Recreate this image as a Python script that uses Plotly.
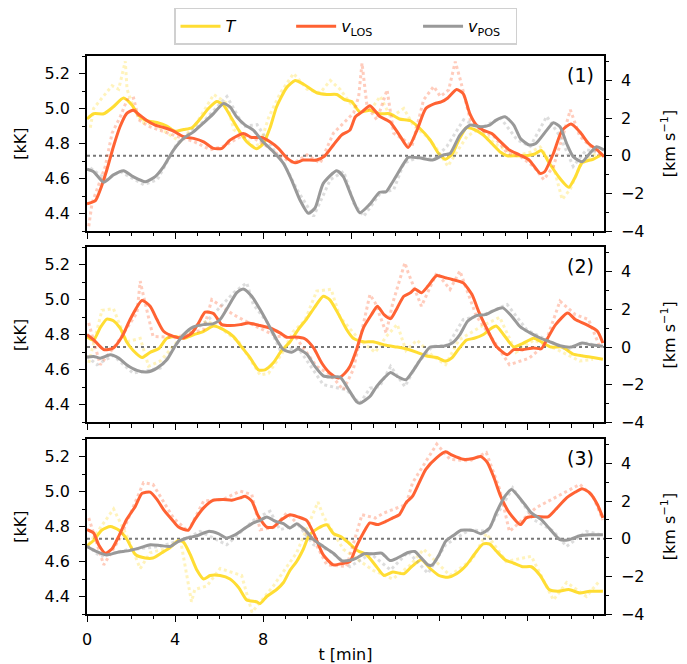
import plotly.graph_objects as go

# ---------------- data (t in min, T in kK, v in km/s) ----------------
# Panel (1) smoothed
p1_t_T = [0,0.3,0.76,1.2,1.66,2.04,2.35,2.72,3.18,3.63,4.0,4.39,4.77,5.14,5.52,5.9,6.2,6.5,6.88,7.26,7.72,8.02,8.32,8.62,9.08,9.46,9.83,10.44,10.9,11.35,11.72,12.03,12.4,12.86,13.3,13.77,14.2,14.7,15.1,15.6,16.0,16.3,16.6,16.9,17.25,17.6,18.0,18.4,18.8,19.1,19.5,19.97,20.35,20.65,21.0,21.5,21.9,22.2,22.5,23.0,23.45]
p1_T = [4.94,4.97,4.97,5.01,5.06,5.02,4.96,4.93,4.92,4.90,4.87,4.88,4.89,4.94,5.00,5.04,5.02,4.96,4.88,4.81,4.77,4.80,4.89,5.01,5.12,5.16,5.14,5.09,5.08,5.08,5.05,5.04,4.98,4.99,4.97,4.97,4.94,4.93,4.89,4.82,4.74,4.71,4.74,4.82,4.89,4.88,4.85,4.80,4.75,4.73,4.73,4.73,4.74,4.76,4.69,4.60,4.55,4.61,4.69,4.71,4.74]
p1_t_los = [0,0.38,0.6,0.9,1.2,1.5,1.8,2.1,2.4,2.7,3.1,3.48,3.93,4.39,4.84,5.3,5.75,6.13,6.5,7.1,7.49,7.94,8.32,8.7,9.08,9.46,9.83,10.44,10.8,11.2,11.57,11.95,12.2,12.5,12.86,13.3,13.77,14.2,14.6,15.0,15.4,15.8,16.1,16.4,16.8,17.1,17.4,17.7,18.0,18.4,18.8,19.2,19.67,20.1,20.6,20.8,21.2,21.6,22.0,22.4,22.8,23.2,23.5]
p1_los = [-2.56,-2.39,-1.82,-0.76,0.48,1.54,2.24,2.42,2.16,1.89,1.63,1.50,1.31,1.01,0.92,0.74,0.39,0.39,0.83,1.18,0.97,0.97,0.74,0.39,-0.11,-0.37,-0.23,-0.23,-0.02,0.57,1.10,1.36,2.07,2.33,2.66,2.10,1.80,1.10,0.44,1.36,2.51,2.77,2.86,3.07,3.52,3.30,2.24,1.63,1.36,1.18,0.74,0.30,0.04,-0.23,-0.94,-0.85,0.12,1.36,1.68,1.27,0.65,0.30,-0.05]
p1_t_pos = [0,0.3,0.76,1.2,1.66,2.1,2.65,3.1,3.48,3.93,4.39,4.84,5.3,5.75,6.2,6.5,6.8,7.19,7.56,8.0,8.47,8.93,9.3,9.68,10.06,10.36,10.74,11.35,11.65,12.03,12.4,12.86,13.3,13.6,13.9,14.4,14.6,15.1,15.7,16.2,16.5,16.95,17.4,17.9,18.3,18.6,19.0,19.4,19.7,20.1,20.4,20.9,21.2,21.5,21.8,22.1,22.5,22.85,23.16,23.5]
p1_pos = [-0.72,-0.85,-1.41,-1.02,-0.80,-1.11,-1.38,-1.11,-0.58,0.30,0.92,1.27,1.75,2.24,2.77,2.60,2.07,1.63,1.36,0.74,0.21,-0.41,-1.29,-2.35,-3.06,-2.79,-1.47,-0.80,-1.11,-2.17,-3.03,-2.57,-1.94,-1.91,-1.38,-0.41,-0.09,-0.11,-0.23,0.04,0.12,1.10,1.63,1.54,1.63,1.89,2.07,1.63,0.92,0.57,0.65,1.36,1.75,1.54,0.65,-0.05,-0.32,0.12,0.48,0.30]
# Panel (1) raw (faint dotted)
p1_rt_T = [0.15,0.3,0.68,1.14,1.44,1.74,1.82,2.12,2.5,3.03,3.64,4.24,5.0,5.45,5.76,6.36,6.67,7.12,7.58,7.88,8.26,8.79,9.39,10.0,10.6,11.06,11.5,11.97,12.42,13.0,13.33,13.8,14.4,14.85,15.45,15.9,16.4,16.8,17.27,17.88,18.5,18.94,19.55,20.15,20.6,21.2,21.6,21.97,22.4,22.9,23.4]
p1_rT = [4.89,5.00,5.06,5.13,5.11,5.27,5.11,5.00,4.92,4.91,4.86,4.81,4.92,5.01,5.08,5.03,4.88,4.84,4.78,4.80,4.95,5.09,5.20,5.11,5.09,5.16,5.11,5.03,4.98,5.01,5.07,4.95,5.00,4.90,4.84,4.77,4.67,4.75,4.84,4.89,4.80,4.77,4.73,4.75,4.78,4.67,4.48,4.54,4.67,4.73,4.75]
p1_rt_los = [0.08,0.23,0.45,0.83,1.14,1.52,1.82,2.12,2.35,2.8,3.48,4.09,4.85,5.6,6.2,7.0,7.58,8.18,8.79,9.39,10.0,10.6,11.2,11.67,12.12,12.35,12.5,12.73,13.18,13.64,13.94,14.4,14.77,15.3,15.76,16.06,16.44,16.74,16.97,17.42,17.88,18.5,19.1,19.7,20.3,20.76,21.2,21.67,21.97,22.4,22.9,23.4]
p1_rlos = [-3.75,-2.51,-1.81,-0.57,1.20,2.09,2.97,3.06,1.91,1.56,1.29,1.03,0.76,0.32,0.50,1.03,0.94,0.50,-0.04,-0.39,0.05,-0.39,1.20,1.73,2.27,3.15,4.92,2.62,1.91,3.50,1.20,0.85,0.50,2.97,3.68,3.15,3.50,5.00,4.03,1.91,1.38,1.03,0.14,-0.04,-0.57,-1.27,-0.57,1.20,2.44,1.03,0.50,-0.04]
p1_rt_pos = [0.15,0.9,1.5,2.58,3.2,4.1,5.3,6.36,7.12,7.73,8.48,8.94,9.55,10.3,11.06,11.67,12.12,12.58,13.33,13.94,14.4,15.15,15.76,16.36,17.12,17.88,18.8,19.55,20.15,20.9,21.5,22.1,22.7,23.4]
p1_rpos = [-0.65,-1.27,-0.83,-1.54,-1.27,0.67,1.82,3.15,1.56,1.65,0.32,-0.39,-1.81,-3.22,-1.27,-0.83,-2.51,-3.22,-1.98,-1.81,-0.39,-0.04,-0.21,0.50,1.91,1.47,2.00,0.85,0.50,2.09,1.03,-0.57,0.32,0.14]

# Panel (2) smoothed
p2_t_T = [0,0.3,0.6,0.9,1.2,1.5,1.8,2.1,2.5,2.87,3.25,3.63,4.0,4.39,4.84,5.3,5.75,6.2,6.66,7.03,7.41,7.79,8.09,8.47,8.85,9.23,9.6,9.98,10.36,10.74,11.04,11.42,11.8,12.1,12.56,13.0,13.6,14.1,14.5,15.0,15.4,15.9,16.3,16.6,16.9,17.25,17.6,18.0,18.3,18.6,19.0,19.4,19.8,20.3,20.65,21.1,21.6,22.1,22.5,23.0,23.45]
p2_T = [4.79,4.77,4.84,4.89,4.88,4.84,4.76,4.71,4.67,4.70,4.72,4.78,4.79,4.78,4.80,4.82,4.85,4.83,4.79,4.73,4.67,4.60,4.60,4.64,4.71,4.76,4.83,4.89,4.96,5.02,5.00,4.92,4.83,4.78,4.76,4.76,4.74,4.73,4.72,4.70,4.68,4.67,4.65,4.67,4.72,4.77,4.78,4.80,4.83,4.85,4.79,4.73,4.75,4.78,4.76,4.73,4.73,4.69,4.68,4.67,4.66]
p2_t_los = [0,0.3,0.76,1.2,1.6,1.97,2.5,2.87,3.18,3.48,3.93,4.39,4.77,5.07,5.37,5.75,6.13,6.5,6.96,7.34,7.87,8.32,8.77,9.08,9.46,9.9,10.3,10.67,11.04,11.42,11.72,11.95,12.25,12.56,12.93,13.2,13.5,13.8,14.1,14.4,14.7,14.9,15.2,15.5,15.9,16.3,16.6,17.1,17.5,17.8,18.2,18.6,19.1,19.4,19.8,20.3,20.65,20.9,21.3,21.85,22.2,22.7,23.2,23.45]
p2_los = [0.66,0.39,-0.14,-0.05,0.57,1.49,2.47,2.17,1.46,0.84,0.57,0.48,0.75,1.28,1.85,1.78,1.19,1.14,1.19,1.28,1.14,1.01,0.75,0.52,0.53,0.44,-0.05,-0.85,-1.39,-1.65,-1.39,-1.03,-0.14,1.01,1.72,2.17,1.72,1.51,2.08,2.70,2.88,3.09,2.88,3.24,3.80,3.68,3.59,3.41,2.79,1.90,0.92,0.04,-0.41,-0.14,-0.14,-0.05,-0.09,0.39,1.19,1.81,1.46,1.19,0.84,0.21]
p2_t_pos = [0,0.3,0.6,1.06,1.44,1.8,2.27,2.72,3.18,3.63,4.0,4.39,4.84,5.3,5.75,6.05,6.43,6.8,7.1,7.49,7.87,8.25,8.62,8.93,9.3,9.6,9.98,10.36,10.74,11.1,11.5,11.9,12.25,12.4,12.86,13.16,13.5,13.8,14.1,14.5,14.8,15.2,15.6,16.2,16.6,16.95,17.3,17.7,18.1,18.5,18.9,19.3,19.7,20.1,20.6,21.0,21.5,22.0,22.5,22.9,23.45]
p2_pos = [-0.53,-0.50,-0.59,-0.41,-0.59,-0.94,-1.24,-1.33,-1.12,-0.68,0.04,0.66,1.07,1.19,1.24,1.46,2.17,2.88,3.09,2.70,1.99,1.19,0.39,-0.14,-0.28,-0.11,-0.36,-1.03,-1.53,-1.60,-1.60,-2.28,-2.90,-2.99,-2.63,-2.10,-1.65,-1.35,-1.56,-1.74,-1.30,-0.59,0.0,0.04,0.21,0.66,1.37,1.67,1.72,1.94,2.08,1.64,1.07,0.78,0.48,0.30,0.07,0.0,0.21,0.12,0.04]
# Panel (2) raw
p2_rt_T = [0.08,0.68,1.2,1.8,2.42,2.8,3.33,4.3,5.45,6.05,6.9,7.87,8.25,8.9,9.38,9.9,10.44,11.1,11.5,12.4,13.1,13.6,14.1,14.5,15.0,15.7,16.3,16.9,17.95,18.76,19.5,20.3,21.3,22.4,23.0]
p2_rT = [4.64,4.94,4.95,4.76,4.78,4.62,4.65,4.79,4.88,4.84,4.76,4.57,4.58,4.70,4.82,4.88,5.05,5.06,4.90,4.77,4.70,4.79,4.86,4.71,4.77,4.68,4.63,4.77,4.85,4.90,4.70,4.77,4.72,4.65,4.66]
p2_rt_los = [0.08,0.6,1.3,2.27,2.42,2.5,3.0,4.0,5.3,5.67,6.66,7.5,8.62,9.5,10.44,11.1,11.65,12.1,12.86,13.1,13.6,13.9,14.45,14.6,15.2,15.9,16.5,16.95,17.7,18.45,19.2,20.1,20.8,21.5,22.2,22.8,23.3]
p2_rlos = [1.28,-0.94,0.10,1.81,3.50,3.06,0.57,0.50,0.92,2.52,1.72,1.20,0.57,0.50,-1.03,-1.50,-2.28,-1.21,2.79,2.35,0.75,2.35,4.48,3.95,2.17,3.95,3.06,4.04,1.64,0.39,-0.94,-0.59,0.10,2.44,1.72,1.46,0.04]
p2_rt_pos = [0.0,0.45,1.2,2.1,3.33,4.2,5.45,6.66,7.26,7.56,8.2,8.77,9.6,10.74,11.8,12.4,12.86,13.3,13.8,14.45,15.0,15.7,16.4,17.1,18.0,19.1,20.0,20.9,21.8,22.7,23.4]
p2_rpos = [-0.50,-0.94,-0.45,-1.39,-1.12,0.40,1.37,2.88,3.41,2.26,1.30,-0.14,-0.05,-2.00,-2.28,-3.00,-2.19,-2.10,-1.03,-2.10,-0.90,0.04,0.10,1.46,1.70,2.26,0.90,0.39,-0.14,0.21,0.02]

# Panel (3) smoothed
p3_t_T = [0,0.3,0.68,1.06,1.44,1.8,2.2,2.65,3.0,3.4,3.78,4.16,4.39,4.69,5.0,5.3,5.6,6.05,6.5,6.9,7.26,7.7,7.87,8.17,8.62,8.93,9.23,9.53,9.83,10.1,10.5,10.9,11.2,11.57,11.95,12.33,12.7,13.16,13.5,13.9,14.4,14.75,15.2,15.6,16.0,16.4,16.8,17.25,17.6,18.0,18.3,18.6,19.0,19.4,19.8,20.2,20.6,21.0,21.4,21.9,22.4,22.85,23.45]
p3_T = [4.69,4.72,4.78,4.80,4.78,4.73,4.64,4.62,4.62,4.65,4.68,4.72,4.71,4.64,4.55,4.50,4.52,4.52,4.50,4.45,4.38,4.37,4.36,4.40,4.44,4.48,4.55,4.60,4.67,4.75,4.79,4.81,4.76,4.74,4.70,4.66,4.64,4.57,4.52,4.54,4.53,4.57,4.61,4.56,4.52,4.51,4.53,4.58,4.64,4.70,4.70,4.66,4.61,4.59,4.57,4.57,4.52,4.44,4.43,4.44,4.42,4.43,4.43]
p3_t_los = [0,0.3,0.53,0.83,1.13,1.44,1.8,2.2,2.5,2.87,3.18,3.48,3.86,4.16,4.6,4.9,5.3,5.75,6.2,6.58,6.96,7.19,7.49,7.79,8.17,8.47,8.85,9.23,9.6,9.98,10.3,10.74,11.2,11.65,11.95,12.25,12.56,12.86,13.2,13.6,13.9,14.2,14.5,14.8,15.1,15.4,15.9,16.3,16.6,17.1,17.55,17.9,18.2,18.5,18.8,19.2,19.7,19.97,20.4,20.95,21.3,21.8,22.2,22.5,22.85,23.2,23.45]
p3_los = [0.48,0.30,-0.32,-0.77,-0.55,0.12,1.02,1.73,2.41,2.48,2.09,1.55,1.02,0.62,0.45,1.02,1.64,2.05,2.09,2.05,2.17,2.26,2.00,1.19,0.62,0.62,1.02,1.28,1.16,0.98,0.30,-0.86,-1.39,-1.30,-1.21,-0.41,0.30,0.84,0.75,0.93,1.11,1.28,1.91,2.26,2.98,3.69,4.31,4.62,4.44,4.22,4.26,4.37,4.05,3.24,2.26,1.37,0.75,1.11,1.19,1.16,1.55,2.17,2.48,2.66,2.44,1.82,1.11]
p3_t_pos = [0,0.45,0.9,1.36,1.97,2.5,2.87,3.33,3.78,4.16,4.54,5.0,5.52,5.97,6.35,6.73,7.19,7.56,7.87,8.17,8.55,8.93,9.23,9.53,9.9,10.3,10.74,11.2,11.57,11.9,12.25,12.6,13.0,13.4,13.77,14.1,14.6,14.9,15.2,15.5,15.7,16.0,16.3,16.7,17.0,17.55,17.9,18.3,18.6,19.0,19.3,19.6,19.9,20.2,20.65,21.0,21.5,21.9,22.4,22.85,23.45]
p3_pos = [-0.41,-0.68,-0.86,-0.73,-0.62,-0.45,-0.32,-0.36,-0.41,-0.14,0.04,0.16,0.39,0.27,0.04,0.21,0.57,0.84,0.98,1.16,0.93,0.80,0.57,0.80,0.48,-0.05,-0.41,-0.77,-1.16,-1.16,-1.03,-0.80,-0.80,-0.77,-1.16,-1.03,-0.73,-0.68,-1.03,-1.39,-1.39,-0.86,-0.14,0.21,0.45,0.43,0.27,0.57,1.37,2.26,2.62,2.26,1.82,1.37,1.02,0.57,-0.05,-0.05,0.16,0.21,0.21]
# Panel (3) raw
p3_rt_T = [0.08,0.68,1.21,1.8,2.42,2.87,3.78,4.24,4.75,4.9,5.45,6.05,7.03,7.5,8.47,9.53,10.5,10.74,11.65,13.0,13.9,14.7,15.3,16.5,17.5,18.15,19.05,20.2,21.2,21.8,22.7,23.3]
p3_rT = [4.70,4.81,4.90,4.75,4.56,4.65,4.68,4.73,4.37,4.44,4.46,4.56,4.52,4.31,4.46,4.65,4.94,4.86,4.67,4.55,4.50,4.58,4.67,4.52,4.61,4.76,4.60,4.63,4.38,4.48,4.40,4.49]
p3_rt_los = [0.08,0.76,1.5,2.57,3.0,3.93,4.6,5.3,6.2,6.96,7.49,7.87,8.5,9.08,10.3,10.9,11.8,12.5,13.1,13.5,14.5,14.8,15.9,16.5,17.4,18.15,18.76,19.2,20.4,21.5,22.4,23.0,23.45]
p3_rlos = [1.10,-1.39,0.04,2.98,2.89,1.10,0.40,2.00,2.10,2.53,2.35,0.48,0.60,1.37,-0.05,-1.39,-1.48,1.28,1.10,1.37,1.82,2.98,5.03,4.22,4.14,4.58,2.62,0.39,1.64,2.35,2.89,2.26,1.00]
p3_rt_pos = [0.0,0.6,1.8,3.33,4.5,5.14,6.35,7.7,8.32,8.77,9.6,10.3,11.0,11.95,12.9,13.8,14.6,15.5,16.3,17.4,18.2,18.76,19.35,20.3,21.2,21.8,22.7,23.4]
p3_rpos = [-0.35,-0.94,-0.60,-0.41,0.00,0.39,-0.32,1.10,1.46,0.48,0.75,-0.32,-0.60,-1.48,-0.80,-1.66,-0.70,-1.84,-0.32,0.48,0.40,1.55,2.71,1.02,0.40,-0.41,0.39,0.20]

panel_labels = ["(1)", "(2)", "(3)"]
series_names = ["<i>T</i>", "<i>v</i><sub>LOS</sub>", "<i>v</i><sub>POS</sub>"]
x_label_ticks = [0, 4, 8]
x_unlabeled_ticks = [12, 16, 20]
x_range = [0, 23.5]
T_range = [4.3, 5.3]
v_range = [-4, 5.3]

panels = [
    dict(T=(p1_t_T, p1_T), L=(p1_t_los, p1_los), P=(p1_t_pos, p1_pos),
         rT=(p1_rt_T, p1_rT), rL=(p1_rt_los, p1_rlos), rP=(p1_rt_pos, p1_rpos)),
    dict(T=(p2_t_T, p2_T), L=(p2_t_los, p2_los), P=(p2_t_pos, p2_pos),
         rT=(p2_rt_T, p2_rT), rL=(p2_rt_los, p2_rlos), rP=(p2_rt_pos, p2_rpos)),
    dict(T=(p3_t_T, p3_T), L=(p3_t_los, p3_los), P=(p3_t_pos, p3_pos),
         rT=(p3_rt_T, p3_rT), rL=(p3_rt_los, p3_rlos), rP=(p3_rt_pos, p3_rpos)),
]

# ---------------- styling ----------------
C_T = "#FFDD33"
C_LOS = "#FF6233"
C_POS = "#999999"
FONT = "DejaVu Sans"
W, H = 687, 664
MT, MB, ML, MR = 56, 50, 87, 83
plot_h = H - MT - MB
panel_px = [(56, 231), (247.3, 422.3), (439, 614)]
PAD = "\u00a0"

def dom(top, bot):
    return [(H - MB - bot) / plot_h, (H - MB - top) / plot_h]

fig = go.Figure()
LW = 3
RAW_OP = 0.32
legend_names = [series_names[0] + PAD * 10, series_names[1] + PAD * 8, series_names[2] + PAD * 2]
spl = dict(shape="spline", smoothing=0.6)

for i, p in enumerate(panels):
    k = i + 1
    xa = "x" if k == 1 else f"x{k}"
    yl = "y" if k == 1 else f"y{2*k-1}"
    yr = f"y{2*k}"
    # raw data (faint dotted)
    for key, col, ya in (("rT", C_T, yl), ("rL", C_LOS, yr), ("rP", C_POS, yr)):
        fig.add_trace(go.Scatter(x=p[key][0], y=p[key][1], mode="lines", opacity=RAW_OP,
                                 line=dict(color=col, width=3, dash="3px,3px"),
                                 showlegend=False, hoverinfo="skip", xaxis=xa, yaxis=ya))
    fig.add_trace(go.Scatter(x=p["T"][0], y=p["T"][1], mode="lines", line=dict(color=C_T, width=LW, **spl),
                             name=legend_names[0], showlegend=(k == 1), xaxis=xa, yaxis=yl))
    fig.add_trace(go.Scatter(x=p["L"][0], y=p["L"][1], mode="lines", line=dict(color=C_LOS, width=LW, **spl),
                             name=legend_names[1], showlegend=(k == 1), xaxis=xa, yaxis=yr))
    fig.add_trace(go.Scatter(x=p["P"][0], y=p["P"][1], mode="lines", line=dict(color=C_POS, width=LW, **spl),
                             name=legend_names[2], showlegend=(k == 1), xaxis=xa, yaxis=yr))

# empty trace so the extra tick-only axis is drawn
fig.add_trace(go.Scatter(x=[], y=[], xaxis="x4", yaxis="y5", showlegend=False, hoverinfo="skip"))

axis_common = dict(showline=True, linecolor="black", linewidth=1.5, ticks="outside",
                   ticklen=6, tickwidth=1.2, tickcolor="black", showgrid=False, zeroline=False,
                   automargin=False, tickfont=dict(family=FONT, size=16, color="black"))
minor_x = dict(tickmode="linear", tick0=0, dtick=1, ticks="outside", ticklen=3.5, tickcolor="black", tickwidth=1)

layout = dict(
    width=W, height=H, margin=dict(l=ML, r=MR, t=MT, b=MB, autoexpand=False),
    plot_bgcolor="white", paper_bgcolor="white",
    font=dict(family=FONT, size=16, color="black"),
    legend=dict(orientation="h", x=0.5, xanchor="center", y=1.02, yanchor="bottom",
                bordercolor="#d0d0d0", borderwidth=1.5, bgcolor="white",
                font=dict(family=FONT, size=16), itemwidth=40),
    shapes=[], annotations=[],
)

for i in range(3):
    k = i + 1
    top, bot = panel_px[i]
    d = dom(top, bot)
    xname = "xaxis" if k == 1 else f"xaxis{k}"
    ylname = "yaxis" if k == 1 else f"yaxis{2*k-1}"
    yrname = f"yaxis{2*k}"
    yl_id = "y" if k == 1 else f"y{2*k-1}"
    yr_id = f"y{2*k}"
    x_id = "x" if k == 1 else f"x{k}"
    tv = x_label_ticks if k == 3 else x_label_ticks + x_unlabeled_ticks
    layout[xname] = dict(axis_common, domain=[0, 1], anchor=yl_id, range=x_range,
                         tickmode="array", tickvals=tv,
                         showticklabels=(k == 3), mirror=True, ticklabelstandoff=4,
                         minor=minor_x)
    if k == 3:
        layout[xname]["title"] = dict(text="t [min]", font=dict(family=FONT, size=16), standoff=4)
    layout[ylname] = dict(axis_common, domain=d, anchor=x_id, range=T_range,
                          tickmode="linear", tick0=4.4, dtick=0.2, tickformat=".1f",
                          ticklabelstandoff=6,
                          minor=dict(tickmode="linear", tick0=4.3, dtick=0.1, ticks="outside",
                                     ticklen=3.5, tickcolor="black", tickwidth=1),
                          title=dict(text="[kK]", font=dict(family=FONT, size=16), standoff=14))
    layout[yrname] = dict(axis_common, domain=d, anchor=x_id, overlaying=yl_id, side="right",
                          range=v_range, tickmode="linear", tick0=-4, dtick=2,
                          ticklabelstandoff=6,
                          minor=dict(tickmode="linear", tick0=-4, dtick=1, ticks="outside",
                                     ticklen=3.5, tickcolor="black", tickwidth=1),
                          title=dict(text="[km s<sup>−1</sup>]", font=dict(family=FONT, size=16), standoff=20))
    layout["shapes"].append(dict(type="line", xref=f"{x_id} domain", x0=0, x1=1,
                                 yref=yr_id, y0=0, y1=0, layer="below",
                                 line=dict(color="#777777", width=2, dash="dot")))
    layout["annotations"].append(dict(text=panel_labels[i], xref=f"{x_id} domain", yref=f"{yl_id} domain",
                                      x=0.985, y=0.965, xanchor="right", yanchor="top", showarrow=False,
                                      font=dict(family=FONT, size=19, color="black")))

# tick-only overlay axis for the unlabeled major ticks of the bottom panel
layout["xaxis4"] = dict(overlaying="x3", anchor="y5", range=x_range, tickmode="array",
                        tickvals=x_unlabeled_ticks, showticklabels=False, ticks="outside",
                        ticklen=6, tickwidth=1.2, tickcolor="black", showline=False,
                        showgrid=False, zeroline=False, side="bottom", automargin=False)

fig.update_layout(**layout)
fig.write_html("out.html")
